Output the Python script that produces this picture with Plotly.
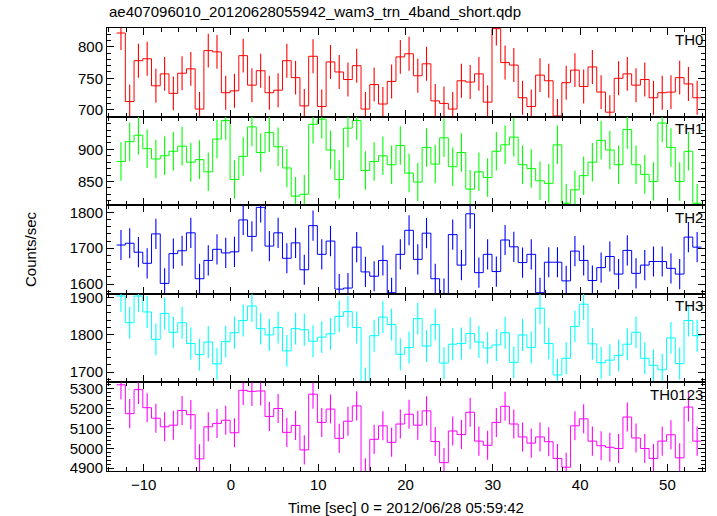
import plotly.graph_objects as go
from plotly.subplots import make_subplots

# ---------------- data ----------------
time = [-12.6, -11.6, -10.6, -9.6, -8.6, -7.6, -6.6, -5.6, -4.6, -3.6,
        -2.6, -1.6, -0.6, 0.4, 1.4, 2.4, 3.4, 4.4, 5.4, 6.4,
        7.4, 8.4, 9.4, 10.4, 11.4, 12.4, 13.4, 14.4, 15.4, 16.4,
        17.4, 18.4, 19.4, 20.4, 21.4, 22.4, 23.4, 24.4, 25.4, 26.4,
        27.4, 28.4, 29.4, 30.4, 31.4, 32.4, 33.4, 34.4, 35.4, 36.4,
        37.4, 38.4, 39.4, 40.4, 41.4, 42.4, 43.4, 44.4, 45.4, 46.4,
        47.4, 48.4, 49.4, 50.4, 51.4, 52.4, 53.4]
bin_width = 1.0

th0 = [822, 713, 778, 781, 738, 757, 726, 758, 765, 701,
       794, 792, 727, 730, 786, 739, 762, 727, 731, 778,
       751, 706, 785, 705, 776, 760, 748, 770, 701, 740,
       709, 745, 784, 789, 754, 773, 714, 710, 701, 746,
       744, 757, 712, 829, 775, 771, 719, 705, 755, 746,
       690, 743, 763, 737, 768, 728, 696, 750, 757, 739,
       748, 719, 727, 728, 751, 741, 719]
th1 = [881, 912, 922, 901, 885, 890, 897, 905, 880, 884,
       865, 916, 945, 853, 889, 935, 895, 926, 904, 871,
       827, 830, 939, 947, 899, 853, 933, 945, 867, 881,
       890, 876, 906, 863, 849, 903, 877, 918, 873, 895,
       838, 865, 856, 897, 907, 919, 876, 870, 851, 847,
       907, 816, 837, 859, 880, 914, 899, 876, 931, 876,
       861, 850, 941, 903, 850, 897, 816]
th2 = [1709, 1714, 1689, 1658, 1740, 1602, 1685, 1693, 1743, 1615,
       1666, 1697, 1687, 1690, 1779, 1733, 1814, 1706, 1743, 1672,
       1715, 1640, 1763, 1683, 1720, 1586, 1589, 1703, 1634, 1622,
       1666, 1576, 1683, 1750, 1669, 1742, 1615, 1574, 1738, 1653,
       1796, 1632, 1683, 1635, 1723, 1704, 1660, 1683, 1576, 1661,
       1661, 1609, 1692, 1666, 1610, 1646, 1677, 1628, 1694, 1630,
       1653, 1663, 1663, 1644, 1628, 1731, 1703]
th3 = [1905, 1833, 1905, 1862, 1788, 1858, 1807, 1833, 1777, 1747,
       1781, 1722, 1782, 1806, 1839, 1878, 1817, 1800, 1820, 1757,
       1817, 1814, 1783, 1794, 1803, 1850, 1863, 1820, 1669, 1798,
       1848, 1828, 1748, 1766, 1844, 1770, 1828, 1724, 1775, 1777,
       1804, 1781, 1765, 1773, 1806, 1726, 1800, 1766, 1872, 1777,
       1692, 1737, 1823, 1883, 1776, 1725, 1732, 1745, 1775, 1807,
       1737, 1718, 1706, 1792, 1723, 1839, 1798]
th0123 = [5319, 5174, 5295, 5204, 5151, 5108, 5116, 5190, 5169, 4947,
          5108, 5125, 5141, 5078, 5291, 5286, 5288, 5160, 5200, 5080,
          5115, 4992, 5272, 5130, 5197, 5050, 5136, 5213, 4877, 5045,
          5113, 5030, 5122, 5171, 5116, 5188, 5034, 4928, 5087, 5069,
          5181, 5036, 5015, 5130, 5211, 5122, 5057, 5026, 5057, 5033,
          4949, 4905, 5113, 5148, 5036, 5013, 5005, 4999, 5157, 5052,
          4999, 4949, 5036, 5068, 4952, 5207, 5036]

errors = {"TH0": 27, "TH1": 30, "TH2": 42, "TH3": 43, "TH0123": 73}

panel_names = ["TH0", "TH1", "TH2", "TH3", "TH0123"]
panel_values = [th0, th1, th2, th3, th0123]
panel_colors = ["#ff0000", "#00ff00", "#0000ff", "#00ffff", "#ff00ff"]
panel_ranges = [[689, 830], [813, 951], [1573, 1820], [1672, 1911], [4886, 5331]]
panel_ticks = [[700, 750, 800], [850, 900], [1600, 1700, 1800],
               [1700, 1800, 1900], [4900, 5000, 5100, 5200, 5300]]
panel_minor = [10, 10, 20, 20, 20]
x_ticks = [-10, 0, 10, 20, 30, 40, 50]

title_text = "ae407096010_20120628055942_wam3_trn_4band_short.qdp"
x_title = "Time [sec] 0 = 2012/06/28 05:59:42"
y_title = "Counts/sec"

# ---------------- figure ----------------
FONT = "Liberation Sans, Arial, Helvetica, sans-serif"
fig = make_subplots(rows=5, cols=1, shared_xaxes=True, vertical_spacing=0)

half = bin_width / 2.0
x_edges = [t - half for t in time] + [time[-1] + half]

for k, (name, vals, col) in enumerate(zip(panel_names, panel_values, panel_colors)):
    row = k + 1
    fig.add_trace(go.Scatter(
        x=x_edges, y=vals + [vals[-1]], mode="lines", line_shape="hv",
        line=dict(color=col, width=1), hoverinfo="skip", showlegend=False),
        row=row, col=1)
    fig.add_trace(go.Scatter(
        x=time, y=vals, mode="markers", marker=dict(size=0.1, color=col, opacity=0),
        error_y=dict(type="constant", value=errors[name], color=col, thickness=1.1, width=0),
        showlegend=False), row=row, col=1)
    fig.update_yaxes(
        range=panel_ranges[k], tickmode="array", tickvals=panel_ticks[k],
        ticks="inside", ticklen=7, tickwidth=1, tickcolor="black",
        minor=dict(dtick=panel_minor[k], tick0=0, ticks="inside", ticklen=4, tickcolor="black"),
        showline=True, linecolor="black", linewidth=1, mirror="allticks",
        showgrid=False, zeroline=False,
        tickfont=dict(family=FONT, size=15, color="black"),
        row=row, col=1)
    fig.update_xaxes(
        range=[-14.2, 54.3], tickmode="array", tickvals=x_ticks,
        ticks="inside", ticklen=7, tickwidth=1, tickcolor="black",
        minor=dict(dtick=2, tick0=0, ticks="inside", ticklen=4, tickcolor="black"),
        showline=True, linecolor="black", linewidth=1, mirror="allticks",
        showgrid=False, zeroline=False,
        tickfont=dict(family=FONT, size=15, color="black"),
        showticklabels=(row == 5),
        row=row, col=1)
    yref = "y domain" if row == 1 else f"y{row} domain"
    xref = "x domain" if row == 1 else f"x{row} domain"
    fig.add_annotation(text=name, xref=xref, yref=yref, x=0.9995, y=0.985,
                       xanchor="right", yanchor="top", showarrow=False,
                       font=dict(family=FONT, size=15, color="black"))

fig.add_annotation(text=title_text, xref="paper", yref="paper", x=0, y=1,
                   xanchor="left", yanchor="bottom", yshift=6, showarrow=False,
                   font=dict(family=FONT, size=15, color="black"))
fig.add_annotation(text=x_title, xref="paper", yref="paper", x=0.5, y=0,
                   xanchor="center", yanchor="top", yshift=-26, showarrow=False,
                   font=dict(family=FONT, size=15, color="black"))
fig.add_annotation(text=y_title, xref="paper", yref="paper", x=0, y=0.5,
                   xanchor="right", yanchor="middle", xshift=-66, textangle=-90,
                   showarrow=False, font=dict(family=FONT, size=15, color="black"))

fig.update_layout(
    width=717, height=516,
    margin=dict(l=107, r=12, t=28, b=45),
    paper_bgcolor="white", plot_bgcolor="white",
    showlegend=False,
)

# remove the browser's default 8px body margin so the figure sits at (0, 0)
fig.write_html("out.html",
               config={"displayModeBar": False},
               post_script="document.body.style.margin='0';document.body.style.overflow='hidden';")
